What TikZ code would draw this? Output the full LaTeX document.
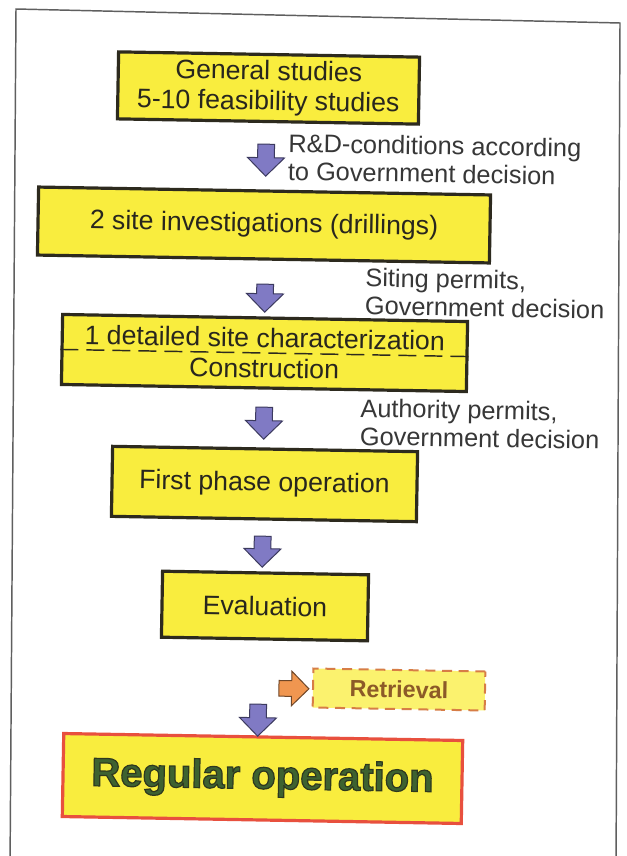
\documentclass[tikz,border=0pt]{standalone}
\usepackage{fontspec}
\setmainfont{Liberation Sans}
\usetikzlibrary{shapes.arrows}

\definecolor{boxyellow}{RGB}{249,237,62}
\definecolor{paleyellow}{RGB}{251,242,110}
\definecolor{boxedge}{RGB}{45,42,30}
\definecolor{arrowfill}{RGB}{128,122,196}
\definecolor{arrowedge}{RGB}{60,58,95}
\definecolor{orangefill}{RGB}{240,150,80}
\definecolor{orangeedge}{RGB}{110,70,40}
\definecolor{dashorange}{RGB}{215,125,70}
\definecolor{retrtext}{RGB}{140,90,40}
\definecolor{redframe}{RGB}{232,80,62}
\definecolor{greentext}{RGB}{62,98,48}
\definecolor{textdark}{RGB}{40,38,30}
\definecolor{notegray}{RGB}{55,55,55}
\definecolor{framegray}{RGB}{95,95,95}

% outlined lettering: fill with the current colour, stroke in dark olive
\newcommand{\outlinedtext}[1]{%
  \special{pdf:literal direct 0.18 0.22 0.12 RG 0.9 w 2 Tr}#1\special{pdf:literal direct 0 Tr}}

\begin{document}
\begin{tikzpicture}[x=0.75pt,y=-0.75pt,
  stage/.style={draw=boxedge, line width=2.4pt, fill=boxyellow, rotate=-1,
    inner sep=0pt, align=center, text=textdark,
    font=\fontsize{20}{22.5}\selectfont},
  down/.style={single arrow, draw=arrowedge, fill=arrowfill, line width=0.75pt,
    inner sep=5.5pt, minimum width=27.75pt, minimum height=#1*0.75pt,
    rotate=-91},
  note/.style={anchor=west, align=left, rotate=-1, inner sep=0pt,
    text=notegray, font=\fontsize{19}{21}\selectfont},
  dashline/.style={draw=boxedge, line width=1.1pt, dash pattern=on 13.5pt off 6pt}]

% page and outer frame
\fill[white] (0,0) rectangle (627,856);
\clip (0,0) rectangle (627,856);
\draw[framegray, line width=1.1pt] (10,870) -- (16,9) -- (620,23) -- (616,870);

% process stages
\node[stage, minimum width=301*0.75pt, minimum height=67*0.75pt] (b1) at (268.5,88)
  {General studies\\5-10 feasibility studies};
\node[stage, minimum width=452*0.75pt, minimum height=68*0.75pt] (b2) at (264,225)
  {2 site investigations (drillings)};
\node[stage, minimum width=405*0.75pt, minimum height=70*0.75pt,
  font=\fontsize{20}{23}\selectfont] (b3) at (264.5,353)
  {1 detailed site characterization\\Construction};
\draw[dashline] (b3.west) -- (b3.east);
\node[stage, minimum width=305*0.75pt, minimum height=70*0.75pt] (b4) at (264.5,484)
  {First phase operation};
\node[stage, minimum width=206*0.75pt, minimum height=66*0.75pt] (b5) at (265,606)
  {Evaluation};
\node[stage, draw=redframe, minimum width=399*0.75pt, minimum height=83*0.75pt,
  text=greentext, font=\fontsize{30}{34}\selectfont\bfseries] (b6) at (262.5,778.5)
  {\outlinedtext{Regular operation}};

% side branch
\node[stage, fill=paleyellow, draw=dashorange, line width=1.5pt,
  dash pattern=on 7.5pt off 5pt, minimum width=172*0.75pt, minimum height=39*0.75pt,
  text=retrtext, font=\fontsize{17.5}{20}\selectfont\bfseries] (rt) at (399,689.5)
  {Retrieval};

% block arrows between stages
\node[down=32] (a1) at (266,156) {};
\node[down=28] (a2) at (265,294) {};
\node[down=32] (a3) at (264,419) {};
\node[down=31] (a4) at (262.5,547.5) {};
\node[down=32] (a5) at (258,716) {};
\node[single arrow, draw=orangeedge, fill=orangefill, line width=0.75pt,
  inner sep=5.5pt, minimum width=33*0.75pt, minimum height=30*0.75pt,
  rotate=-1] (ar) at (290,688.5) {};

% conditions between stages
\node[note] (l1) at (288,157) {R\&D-conditions according\\to Government decision};
\node[note] (l2) at (365,291.5) {Siting permits,\\Government decision};
\node[note] (l3) at (360,422) {Authority permits,\\Government decision};

\end{tikzpicture}
\end{document}
